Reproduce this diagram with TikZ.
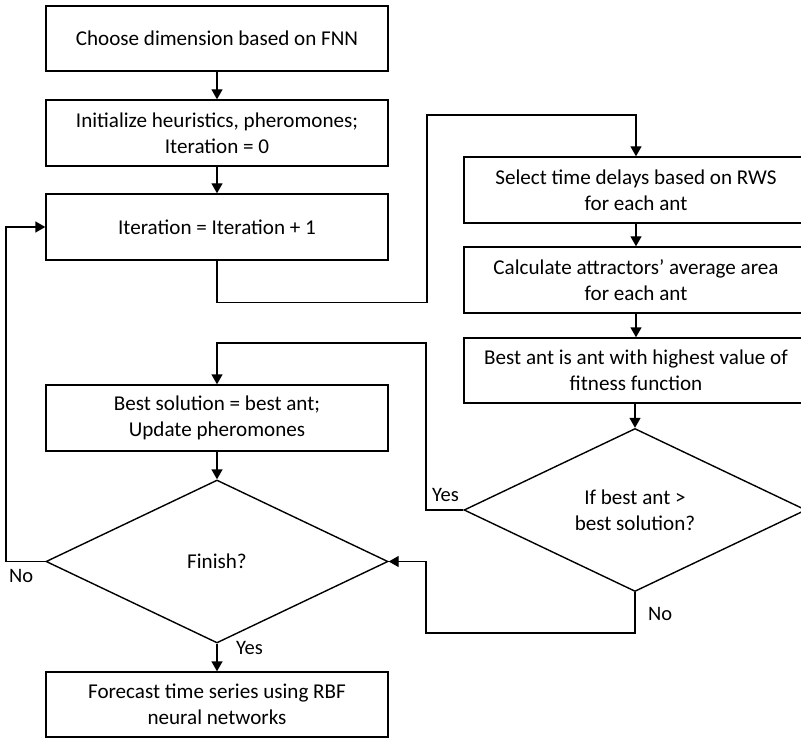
\documentclass[tikz,border=0pt]{standalone}
\usepackage{fontspec}
\setmainfont{Carlito}
\usetikzlibrary{shapes.geometric,arrows.meta}
\begin{document}
\begin{tikzpicture}[x=1pt,y=-1pt,
  every node/.style={font=\fontsize{21.1}{25.7}\selectfont},
  box/.style={draw,line width=1.4pt,rectangle,inner sep=0pt,align=center,minimum height=66pt},
  lbox/.style={box,minimum width=342pt},
  rbox/.style={box,minimum width=344pt},
  dec/.style={draw,line width=1.4pt,diamond,inner sep=0pt,align=center,minimum width=342pt,minimum height=163pt},
  arr/.style={line width=1.4pt,-{Triangle[length=10pt,width=11pt]}},
  lab/.style={font=\fontsize{20.5}{24}\selectfont,inner sep=0pt}]
\useasboundingbox (0,0) rectangle (801,738);
\clip (0,0) rectangle (801,738);
\node[lbox,minimum height=65pt] (b1) at (217,38.5) {Choose dimension based on FNN};
\node[lbox] (b2) at (217,133) {Initialize heuristics, pheromones;\\Iteration = 0};
\node[lbox] (b3) at (217,227) {Iteration = Iteration + 1};
\node[rbox] (b4) at (636,190) {Select time delays based on RWS\\for each ant};
\node[rbox] (b5) at (636,280) {Calculate attractors’ average area\\for each ant};
\node[rbox,minimum height=65pt] (b6) at (636,370.5) {Best ant is ant with highest value of\\fitness function};
\node[lbox] (b7) at (217,418) {Best solution = best ant;\\Update pheromones};
\node[dec] (d1) at (217,561.5) {Finish?};
\node[dec] (d2) at (635,510) {If best ant >\\best solution?};
\node[lbox,minimum height=65pt] (b8) at (217,704.5) {Forecast time series using RBF\\neural networks};
\coordinate (c1) at (427,115);
\coordinate (c3) at (426,343);
\coordinate (c4) at (6,561.5);
\coordinate (c5) at (426,633);
\draw[arr] (b1) -- (b2);
\draw[arr] (b2) -- (b3);
\draw[arr] (b3.south) -- ++(0,42) -| (c1) -| (b4.north);
\draw[arr] (b4) -- (b5);
\draw[arr] (b5) -- (b6);
\draw[arr] (b6.south -| d2.north) -- (d2.north);
\draw[arr] (d2.west) -| (c3) -| (b7.north);
\draw[arr] (b7) -- (d1.north);
\draw[arr] (d1.west) -- (c4) |- (b3.west);
\draw[arr] (d1.south) -- (b8.north);
\draw[arr] (d2.south) |- (c5) |- (d1.east);
\node[lab,anchor=south west] (yes2) at (432,502) {Yes};
\node[lab,anchor=north west] (no1) at (9,569) {No};
\node[lab,anchor=west] (yes1) at (236,648) {Yes};
\node[lab,anchor=west] (no2) at (648,614) {No};
\end{tikzpicture}
\end{document}
